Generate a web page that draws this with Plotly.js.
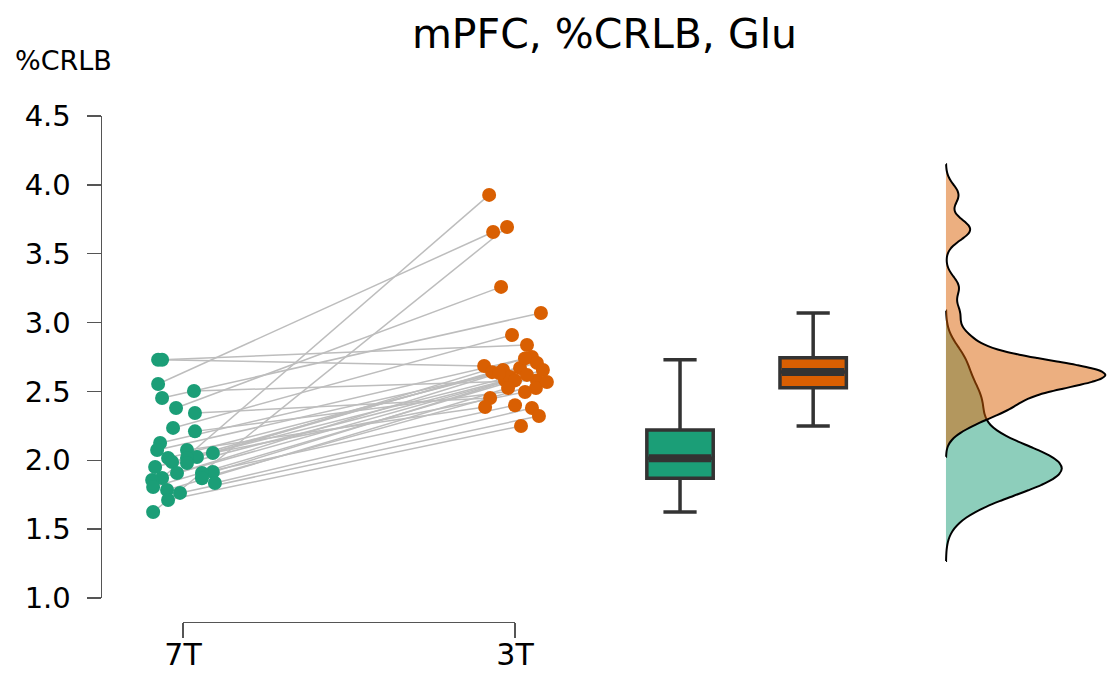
<!DOCTYPE html>
<html>
<head>
<meta charset="utf-8">
<script src="https://cdn.plot.ly/plotly-3.0.1.min.js"></script>
<style>html,body{margin:0;padding:0;background:#fff;}#chart{width:1107px;height:673px;}</style>
</head>
<body>
<div id="chart"></div>
<script>
// ---- data ----
var categories = ['7T', '3T'];
var values7T = [2.73, 2.73, 2.554, 1.625, 1.871, 2.380, 2.503, 2.452, 2.343, 2.235, 2.21, 2.126, 2.075, 2.075, 2.053, 2.024, 2.017, 2.017, 1.988, 1.98, 1.951, 1.915, 1.908, 1.908, 1.87, 1.857, 1.835, 1.806, 1.784, 1.763, 1.712];
var values3T = [2.685, 2.837, 3.658, 3.694, 3.927, 3.259, 2.58, 3.07, 2.452, 2.91, 2.525, 2.75, 2.67, 2.387, 2.74, 2.64, 2.707, 2.496, 2.656, 2.58, 2.605, 2.656, 2.634, 2.40, 2.569, 2.62, 2.38, 2.58, 2.525, 2.322, 2.249];
var jitter7T = [-0.075, -0.063, -0.075, -0.090, -0.063, -0.021, 0.033, -0.063, 0.036, -0.030, 0.036, -0.069, -0.078, 0.012, 0.090, 0.042, -0.045, 0.012, -0.033, 0.012, -0.084, 0.090, -0.018, 0.057, 0.057, -0.093, 0.096, -0.090, -0.048, -0.009, -0.045];
var jitter3T = [-0.093, 0.036, -0.066, -0.024, -0.078, -0.042, 0.066, 0.078, -0.075, -0.009, 0.063, 0.051, 0.015, -0.090, 0.030, -0.069, 0.066, 0.030, -0.036, -0.030, -0.015, 0.084, -0.048, 0.000, 0.096, 0.036, 0.051, 0.000, -0.021, 0.072, 0.018];
// box statistics
var boxLow    = [1.625, 2.249];
var boxQ1     = [1.870, 2.527];
var boxMedian = [2.015, 2.641];
var boxQ3     = [2.220, 2.745];
var boxHigh   = [2.730, 3.070];
var yTicks = [1.0, 1.5, 2.0, 2.5, 3.0, 3.5, 4.0, 4.5];

// ---- styling ----
var colors = ['#1b9e77', '#d95f02'];
var fills = ['rgba(27,158,119,0.5)', 'rgba(217,95,2,0.5)'];
var dark = '#333333';
var font = 'DejaVu Sans, Verdana, sans-serif';
var posDots = [1, 2];
var posBox = [2.497, 2.898];
var posDens = 3.298;
var boxW = 0.20;
var densMaxWidth = 0.96;

// lines connecting the paired observations
var lx = [], ly = [];
for (var i = 0; i < values7T.length; i++) {
  lx.push(posDots[0] + jitter7T[i], posDots[1] + jitter3T[i], null);
  ly.push(values7T[i], values3T[i], null);
}

function quantile(arr, p) {
  var s = arr.slice().sort(function(a, b){return a - b;});
  var h = (s.length - 1) * p, lo = Math.floor(h);
  return s[lo] + (h - lo) * ((s[lo + 1] !== undefined ? s[lo + 1] : s[lo]) - s[lo]);
}
function sd(arr) {
  var m = arr.reduce(function(a, b){return a + b;}, 0) / arr.length;
  var v = arr.reduce(function(a, b){return a + (b - m) * (b - m);}, 0) / (arr.length - 1);
  return Math.sqrt(v);
}
function bwNrd0(arr) {
  var iqr = quantile(arr, 0.75) - quantile(arr, 0.25);
  return 0.9 * Math.min(sd(arr), iqr / 1.34) * Math.pow(arr.length, -0.2);
}
function kdePeak(arr, bw) {
  var mn = Math.min.apply(null, arr) - 3 * bw, mx = Math.max.apply(null, arr) + 3 * bw, best = 0;
  for (var k = 0; k <= 600; k++) {
    var x = mn + (mx - mn) * k / 600, s = 0;
    for (var i = 0; i < arr.length; i++) { var u = (x - arr[i]) / bw; s += Math.exp(-0.5 * u * u); }
    s /= (arr.length * bw * Math.sqrt(2 * Math.PI));
    if (s > best) best = s;
  }
  return best;
}

var traces = [];
traces.push({
  type: 'scatter', mode: 'lines', x: lx, y: ly,
  line: {color: '#bdbdbd', width: 1.5}, hoverinfo: 'skip', showlegend: false
});
var groups = [values7T, values3T];
var jit = [jitter7T, jitter3T];
for (var g = 0; g < 2; g++) {
  traces.push({
    type: 'scatter', mode: 'markers',
    x: jit[g].map(function(j){return posDots[g] + j;}), y: groups[g],
    marker: {color: colors[g], size: 14, line: {width: 0}},
    hoverinfo: 'skip', showlegend: false
  });
}
// density (half violins), green first, orange on top; shared density scale
var bws = groups.map(bwNrd0);
var peaks = groups.map(function(a, g){ return kdePeak(a, bws[g]); });
var maxPeak = Math.max(peaks[0], peaks[1]);
for (var g = 0; g < 2; g++) {
  var bw = bws[g];
  var mn = Math.min.apply(null, groups[g]), mx = Math.max.apply(null, groups[g]);
  traces.push({
    type: 'violin', y: groups[g], x0: posDens, name: 'dens' + g,
    side: 'positive', bandwidth: bw, spanmode: 'manual', span: [mn - 3 * bw, mx + 3 * bw],
    points: false, box: {visible: false}, meanline: {visible: false},
    fillcolor: fills[g], line: {color: '#000', width: 2},
    scalegroup: 'dens' + g, scalemode: 'width', width: densMaxWidth * peaks[g] / maxPeak,
    hoverinfo: 'skip', showlegend: false
  });
}
// boxplots
for (var g = 0; g < 2; g++) {
  traces.push({
    type: 'box', x: [posBox[g]],
    lowerfence: [boxLow[g]], q1: [boxQ1[g]], median: [boxMedian[g]], q3: [boxQ3[g]], upperfence: [boxHigh[g]],
    width: boxW, whiskerwidth: 0.5, boxpoints: false,
    fillcolor: colors[g], line: {color: dark, width: 3.5},
    hoverinfo: 'skip', showlegend: false
  });
  traces.push({
    type: 'scatter', mode: 'lines',
    x: [posBox[g] - boxW / 2 + 0.006, posBox[g] + boxW / 2 - 0.006], y: [boxMedian[g], boxMedian[g]],
    line: {color: dark, width: 8}, hoverinfo: 'skip', showlegend: false
  });
}
// dummy trace for the category bracket axis
traces.push({type: 'scatter', x: [], y: [], xaxis: 'x2', yaxis: 'y', showlegend: false, hoverinfo: 'skip'});

var layout = {
  width: 1107, height: 673,
  margin: {l: 102, r: 0, t: 116, b: 51, pad: 0},
  paper_bgcolor: '#fff', plot_bgcolor: 'rgba(0,0,0,0)',
  font: {family: font, color: '#000'},
  showlegend: false,
  title: {text: 'mPFC, %CRLB, Glu', font: {family: font, size: 41, color: '#000'},
          xref: 'paper', x: 0.5, xanchor: 'center', yref: 'container', y: 0.95, yanchor: 'middle'},
  xaxis: {range: [0.756, 3.783], visible: false, fixedrange: true},
  xaxis2: {domain: [81 / 1005, 413 / 1005], range: [1, 2], anchor: 'free', position: 0,
           showline: true, linecolor: '#555', linewidth: 1.4, ticks: 'outside', ticklen: 15, tickwidth: 1.4,
           tickcolor: '#555', tickvals: posDots, ticktext: categories, showgrid: false, zeroline: false,
           tickfont: {family: font, size: 30, color: '#000'}, ticklabelstandoff: -9},
  yaxis: {domain: [24 / 506, 1], range: [1, 4.5], tickvals: yTicks, ticktext: yTicks.map(function(v){return v.toFixed(1);}),
          showline: true, linecolor: '#555', linewidth: 1.4, ticks: 'outside', ticklen: 14, tickwidth: 1.4,
          tickcolor: '#555', showgrid: false, zeroline: false,
          tickfont: {family: font, size: 29, color: '#000'}, ticklabelstandoff: 10},
  violinmode: 'overlay', boxmode: 'overlay',
  annotations: [{text: '%CRLB', xref: 'paper', yref: 'paper', x: -89 / 1005, y: (622 - 61) / 506,
                 xanchor: 'left', yanchor: 'middle', showarrow: false,
                 font: {family: font, size: 27, color: '#000'}}]
};

Plotly.newPlot('chart', traces, layout, {displayModeBar: false, staticPlot: true});
</script>
</body>
</html>
